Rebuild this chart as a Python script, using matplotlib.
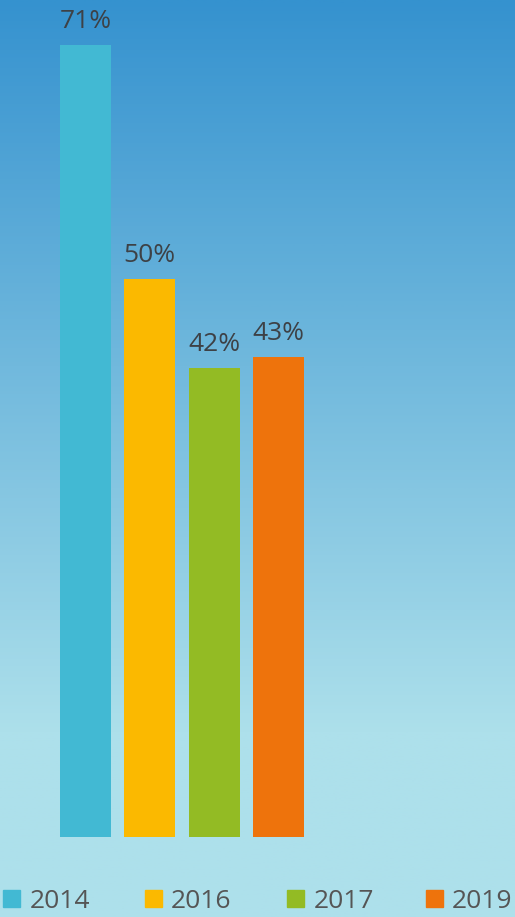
import numpy as np
import matplotlib.pyplot as plt
from matplotlib.colors import LinearSegmentedColormap
from matplotlib.patches import Rectangle

years = ['2014', '2016', '2017', '2019']
values = [71, 50, 42, 43]
colors = ['#42b9d3', '#fbb900', '#93bb24', '#ee730c']

W, H = 515, 917
fig = plt.figure(figsize=(W / 100, H / 100), dpi=100)

# gradient background: light at the bottom, flat until ~y=735px from top
bg = fig.add_axes([0, 0, 1, 1])
grad = LinearSegmentedColormap.from_list(
    'bg', [(0, '#ade0eb'), (0.2, '#ade0eb'), (1, '#3592cf')])
bg.imshow(np.linspace(0, 1, 512).reshape(-1, 1), aspect='auto', cmap=grad,
          origin='lower', extent=[0, 1, 0, 1])
bg.axis('off')

# bars
ax = fig.add_axes([0, 80 / H, 1, 837 / H])
ax.patch.set_alpha(0)
x = np.arange(len(years))
ax.bar(x, values, width=0.79, color=colors)
ax.set_xlim(-1.329, 6.676)
ax.set_ylim(0, 75.03)
ax.axis('off')
for xi, v in zip(x, values):
    ax.annotate(f'{v}%', (xi, v), xytext=(0, 8), textcoords='offset points',
                ha='center', va='bottom', fontsize=19, color='#3d4146',
                family='Open Sans')

# legend
sq_x = [3, 145, 287, 426]
tx_x = [30, 171, 314, 452]
for sx, tx, yr, c in zip(sq_x, tx_x, years, colors):
    fig.patches.append(Rectangle((sx / W, 10 / H), 17 / W, 17 / H,
                                 transform=fig.transFigure, color=c))
    fig.text(tx / W, 9 / H, yr, fontsize=19, color='#555555',
             family='Open Sans', ha='left', va='baseline')

fig.savefig('out.png', dpi=100)
